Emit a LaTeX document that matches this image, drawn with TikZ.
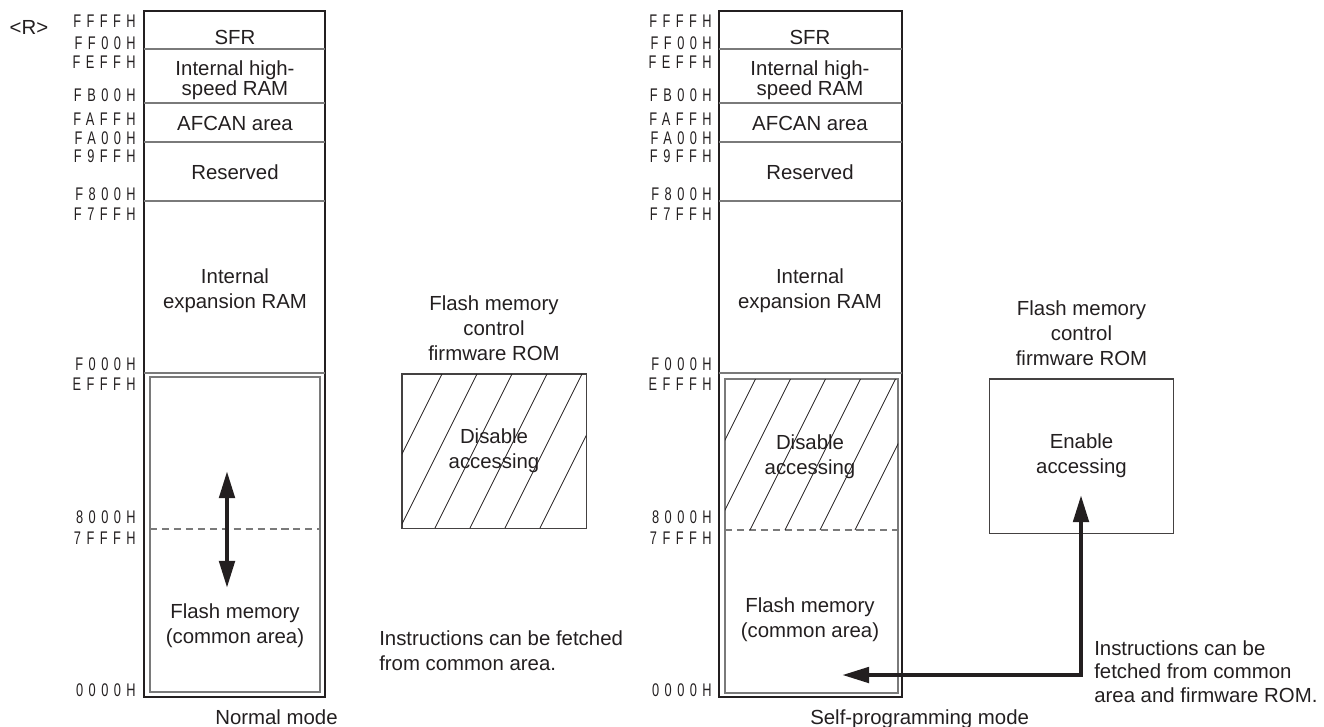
\documentclass[tikz,border=0pt]{standalone}
\usepackage{fontspec}
\setmainfont{Liberation Sans}
\newfontfamily\addrfont[FakeStretch=0.7,LetterSpace=30]{Liberation Sans}
\usetikzlibrary{arrows.meta,positioning}
\definecolor{ink}{HTML}{231F20}
\definecolor{rulegray}{HTML}{7A7A7A}
\tikzset{
  memframe/.style={draw=ink, line width=2.1pt},
  cellrule/.style={draw=rulegray, line width=0.75pt},
  celltext/.style={font=\fontsize{14.5}{17.8}\selectfont, text=ink, align=center, inner sep=0pt},
  tightcell/.style={celltext, font=\fontsize{14.5}{13.5}\selectfont},
  addrlabel/.style={font=\addrfont\fontsize{13}{13}\selectfont, text=ink, anchor=east, inner sep=0pt},
  rombox/.style={
    draw=ink!85,
    line width=0.75pt,
    minimum width=4.6cm,
    minimum height=3.85cm,
    font=\fontsize{14.5}{17.8}\selectfont,
    text=ink,
    align=center
  },
  romtitle/.style={font=\fontsize{14.5}{17.8}\selectfont, text=ink, align=center, inner sep=0pt},
  hatchline/.style={draw=ink, line width=0.6pt},
  splitdash/.style={draw=rulegray, line width=0.75pt, dash pattern=on 5pt off 3.5pt},
  fatarrow/.style={
    draw=ink,
    line width=3.2pt,
    {Triangle[length=0.68cm,width=0.38cm]}-{Triangle[length=0.68cm,width=0.38cm]}
  },
  note/.style={font=\fontsize{14.5}{17.8}\selectfont, text=ink, align=left, anchor=west, inner sep=0pt},
  modelabel/.style={font=\fontsize{14.5}{17.8}\selectfont, text=ink, anchor=base west, inner sep=0pt}
}

\begin{document}
\begin{tikzpicture}[x=0.025cm, y=-0.025cm]
  \useasboundingbox (0,0) rectangle (1324,726);

  \node[celltext] (revmark) at (29,27) {<R>};

  % normal mode map
  \draw[memframe] (144,11) rectangle (325,697);
  \draw[cellrule] (144,49) -- (325,49);
  \draw[cellrule] (144,103) -- (325,103);
  \draw[cellrule] (144,142) -- (325,142);
  \draw[cellrule] (144,201) -- (325,201);
  \draw[cellrule] (144,373) -- (325,373);
  \draw[cellrule] (150,377) rectangle (320,692);
  \draw[splitdash] (150,529) -- (320,529);

  \node[celltext] (lsfr) at (235,37) {SFR};
  \node[tightcell] (lhsram) at (235,80) {Internal high-\\speed RAM};
  \node[celltext] (lafcan) at (235,123) {AFCAN area};
  \node[celltext] (lres) at (235,172) {Reserved};
  \node[celltext] (lxram) at (235,291) {Internal\\expansion RAM};
  \node[celltext] (lflash) at (235,626) {Flash memory\\(common area)};

  \node[addrlabel] (lFFFF) at (136,21) {FFFFH};
  \node[addrlabel] (lFF00) at (136,43) {FF00H};
  \node[addrlabel] (lFEFF) at (136,62.5) {FEFFH};
  \node[addrlabel] (lFB00) at (136,95) {FB00H};
  \node[addrlabel] (lFAFF) at (136,119.5) {FAFFH};
  \node[addrlabel] (lFA00) at (136,138) {FA00H};
  \node[addrlabel] (lF9FF) at (136,156.5) {F9FFH};
  \node[addrlabel] (lF800) at (136,194) {F800H};
  \node[addrlabel] (lF7FF) at (136,214) {F7FFH};
  \node[addrlabel] (lF000) at (136,364) {F000H};
  \node[addrlabel] (lEFFF) at (136,384) {EFFFH};
  \node[addrlabel] (l8000) at (136,517.5) {8000H};
  \node[addrlabel] (l7FFF) at (136,538) {7FFFH};
  \node[addrlabel] (l0000) at (136,690) {0000H};

  \coordinate (bankup) at (227,471);
  \coordinate (bankdown) at (227,588);
  \draw[fatarrow] (bankup) -- (bankdown);

  % firmware ROM, locked
  \node[rombox] (romoff) at (494,451) {Disable\\accessing};
  \node[romtitle, above=0.3cm of romoff] (romofftitle) {Flash memory\\control\\firmware ROM};
  \begin{scope}
    \clip (402,374) rectangle (586,528);
    \draw[hatchline] (365,528) -- (445,368);
    \draw[hatchline] (400,528) -- (480,368);
    \draw[hatchline] (435,528) -- (515,368);
    \draw[hatchline] (470,528) -- (550,368);
    \draw[hatchline] (505,528) -- (585,368);
    \draw[hatchline] (540,528) -- (620,368);
  \end{scope}

  \node[note] (normalnote) at (379,651) {Instructions can be fetched\\from common area.};
  \node[modelabel] (normalmode) at (215,724) {Normal mode};

  % self-programming map
  \draw[memframe] (719,11) rectangle (902,697);
  \draw[cellrule] (719,49) -- (902,49);
  \draw[cellrule] (719,103) -- (902,103);
  \draw[cellrule] (719,142) -- (902,142);
  \draw[cellrule] (719,201) -- (902,201);
  \draw[cellrule] (719,373) -- (902,373);
  \draw[cellrule] (725,379) rectangle (898,693);
  \draw[splitdash] (725,530) -- (898,530);

  \node[celltext] (rsfr) at (810,37) {SFR};
  \node[tightcell] (rhsram) at (810,80) {Internal high-\\speed RAM};
  \node[celltext] (rafcan) at (810,123) {AFCAN area};
  \node[celltext] (rres) at (810,172) {Reserved};
  \node[celltext] (rxram) at (810,291) {Internal\\expansion RAM};
  \node[celltext] (rlock) at (810,457) {Disable\\accessing};
  \node[celltext] (rflash) at (810,620) {Flash memory\\(common area)};
  \begin{scope}
    \clip (725,379) rectangle (898,530);
    \draw[hatchline] (680,530) -- (760,370);
    \draw[hatchline] (715,530) -- (795,370);
    \draw[hatchline] (750,530) -- (830,370);
    \draw[hatchline] (785,530) -- (865,370);
    \draw[hatchline] (820,530) -- (900,370);
    \draw[hatchline] (855,530) -- (935,370);
  \end{scope}

  \node[addrlabel] (rFFFF) at (712,21) {FFFFH};
  \node[addrlabel] (rFF00) at (712,43) {FF00H};
  \node[addrlabel] (rFEFF) at (712,62.5) {FEFFH};
  \node[addrlabel] (rFB00) at (712,95) {FB00H};
  \node[addrlabel] (rFAFF) at (712,119.5) {FAFFH};
  \node[addrlabel] (rFA00) at (712,138) {FA00H};
  \node[addrlabel] (rF9FF) at (712,156.5) {F9FFH};
  \node[addrlabel] (rF800) at (712,194) {F800H};
  \node[addrlabel] (rF7FF) at (712,214) {F7FFH};
  \node[addrlabel] (rF000) at (712,364) {F000H};
  \node[addrlabel] (rEFFF) at (712,384) {EFFFH};
  \node[addrlabel] (r8000) at (712,517.5) {8000H};
  \node[addrlabel] (r7FFF) at (712,538) {7FFFH};
  \node[addrlabel] (r0000) at (712,690) {0000H};

  % firmware ROM, open
  \node[rombox] (romon) at (1081.5,456) {Enable\\accessing};
  \node[romtitle, above=0.3cm of romon] (romontitle) {Flash memory\\control\\firmware ROM};

  \coordinate (fetchend) at (842,675);
  \coordinate (romentry) at (1081,495);
  \draw[fatarrow] (fetchend) -| (romentry);

  \node[note, font=\fontsize{14.5}{16.7}\selectfont] (selfnote) at (1094,671.5)
    {Instructions can be\\fetched from common\\area and firmware ROM.};
  \node[modelabel] (selfmode) at (810,724) {Self-programming mode};
\end{tikzpicture}
\end{document}
